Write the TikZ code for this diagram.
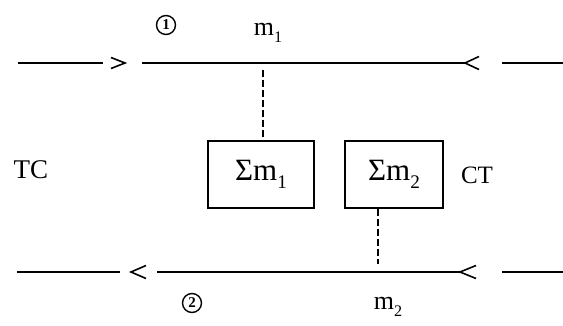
\documentclass[tikz,border=0pt]{standalone}
\usepackage{fontspec}
\setmainfont{Liberation Serif}
\newcommand{\lowsub}[1]{\raisebox{-0.28em}{\fontsize{0.62em}{0.7em}\selectfont #1}}
\begin{document}
\begin{tikzpicture}[x=1pt,y=-1pt,
  ln/.style={line width=1.3pt},
  chev/.style={line width=1.6pt,line join=miter},
  dsh/.style={line width=1.2pt,dash pattern=on 7pt off 3pt},
  sbox/.style={draw,line width=1.3pt,minimum width=106pt,minimum height=67pt,inner sep=0pt,font=\fontsize{31}{34}\selectfont},
  lbl/.style={font=\fontsize{25}{28}\selectfont,inner sep=0pt},
  circ/.style={draw,circle,line width=1.4pt,minimum size=19pt,inner sep=0pt,font=\fontsize{15}{17}\selectfont\bfseries}]
\useasboundingbox (0,0) rectangle (563,326);
% nodes
\node[sbox] (b1) at (261,174.5) {Σm\lowsub{1}};
\node[sbox,minimum width=98pt] (b2) at (394,174.5) {Σm\lowsub{2}};
\node[lbl,font=\fontsize{27}{30}\selectfont] (tc) at (31,170) {TC};
\node[lbl] (ct) at (477,175) {CT};
\node[lbl,font=\fontsize{26}{29}\selectfont] (m1) at (268,33) {m\lowsub{1}};
\node[lbl,font=\fontsize{26}{29}\selectfont] (m2) at (388,307) {m\lowsub{2}};
\node[circ] (c1) at (166,25) {1};
\node[circ] (c2) at (192,303) {2};
% top channel
\coordinate (t0) at (18,63); \coordinate (t1) at (103,63);
\coordinate (t2) at (142,63); \coordinate (t3) at (465,63);
\coordinate (t4) at (502,63); \coordinate (t5) at (563,63);
\draw[ln] (t0) -- (t1);
\draw[chev] (111,57.5) -- (125,63) -- (111,68.5);
\draw[ln] (t2) -- (t3);
\draw[chev] (479,56.5) -- (t3) -- (479,69.5);
\draw[ln] (t4) -- (t5);
\coordinate (d1) at (263,70);
\draw[dsh] (d1) -- (b1.north -| d1);
% bottom channel
\coordinate (u0) at (17,272); \coordinate (u1) at (120,272);
\coordinate (u2) at (157,272); \coordinate (u3) at (460,272);
\coordinate (u4) at (502,272); \coordinate (u5) at (563,272);
\draw[ln] (u0) -- (u1);
\draw[chev] (146,265.5) -- (131,272) -- (146,278.5);
\draw[ln] (u2) -- (u3);
\draw[chev] (476,265.5) -- (u3) -- (476,278.5);
\draw[ln] (u4) -- (u5);
\coordinate (d2) at (378,264);
\draw[dsh] (b2.south -| d2) -- (d2);
\end{tikzpicture}
\end{document}
